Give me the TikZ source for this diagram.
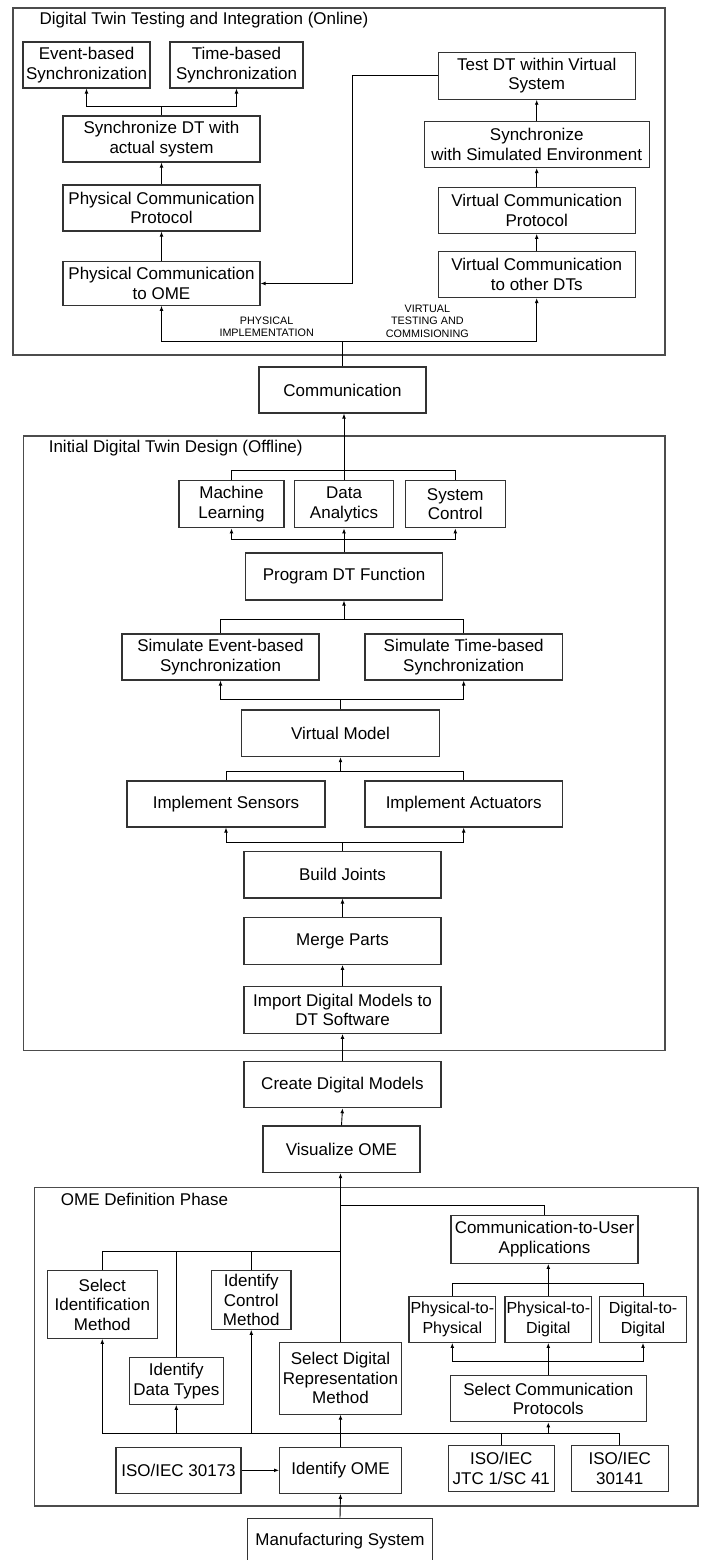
\documentclass[tikz,border=0pt]{standalone}
\usepackage{fontspec}
\setmainfont{Liberation Sans}
\usetikzlibrary{arrows.meta}
\begin{document}
\begin{tikzpicture}[x=1pt,y=-1pt,
  box/.style={draw=black!80, line width=1.1pt, align=center, inner sep=0pt, font=\fontsize{17}{19.5}\selectfont, text=black},
  smallbox/.style={box, font=\fontsize{16}{19.5}\selectfont},
  frame/.style={draw=black!70, line width=1.4pt},
  ln/.style={draw=black, line width=0.9pt},
  arr/.style={ln, -{Latex[length=5pt,width=3.8pt]}},
  lbl/.style={font=\fontsize{10.8}{12.6}\selectfont, align=center, inner sep=0pt},
  ttl/.style={font=\fontsize{17}{19.5}\selectfont, inner sep=0pt, anchor=base west}]
\newcommand\mkbox[7][box]{\node[#1,minimum width=#5pt,minimum height=#6pt] (#2) at (#3,#4) {#7};}
\useasboundingbox (0,0) rectangle (702,1560);
\clip (0,0) rectangle (702,1560);
\fill[white] (0,0) rectangle (702,1560);

% ---------- Top section ----------
\draw[frame] (13,8) rectangle (665,355);
\node[ttl] (t1) at (39.3,24.3) {Digital Twin Testing and Integration (Online)};
\mkbox{ev}{86.5}{65}{127}{46}{Event-based\\Synchronization}
\mkbox{tb}{236.5}{65}{133}{46}{Time-based\\Synchronization}
\mkbox{sda}{161.5}{139}{197}{46}{Synchronize DT with\\actual system}
\mkbox{pcp}{161.5}{208}{197}{46}{Physical Communication\\Protocol}
\mkbox{pco}{161.5}{283.5}{197}{43.5}{Physical Communication\\to OME}
\mkbox{test}{536.7}{75.7}{197}{47}{Test DT within Virtual\\System}
\mkbox{sse}{536.7}{144.5}{225}{46}{Synchronize\\with Simulated Environment}
\mkbox{vcp}{536.7}{210.3}{197}{46}{Virtual Communication\\Protocol}
\mkbox{vco}{536.7}{274.5}{197}{46}{Virtual Communication\\to other DTs}
\mkbox{comm}{342.5}{390}{167}{46}{Communication}

\coordinate (jt) at (342.5,341.7);
\draw[ln] (comm.north) -- (jt);
\draw[arr] (jt) -| (pco.south);
\draw[arr] (jt) -| (vco.south);
\draw[arr] (pco.north) -- (pcp.south);
\draw[arr] (pcp.north) -- (sda.south);
\coordinate (js) at (161.5,106);
\draw[ln] (sda.north) -- (js);
\draw[arr] (js) -| (ev.south);
\draw[arr] (js) -| (tb.south);
\draw[arr] (vco.north) -- (vcp.south);
\draw[arr] (vcp.north) -- (sse.south);
\draw[arr] (sse.north) -- (test.south);
\coordinate (fb) at (352.7,76);
\draw[arr] (test.west) -- (test.west -| fb) |- (pco.east);
\node[lbl] (lp) at (266.7,326.7) {PHYSICAL\\IMPLEMENTATION};
\node[lbl] (lv) at (427.3,321.3) {VIRTUAL\\TESTING AND\\COMMISIONING};

% ---------- Middle section ----------
\draw[frame] (23.4,436) rectangle (665,1050.7);
\node[ttl] (t2) at (48.6,452.5) {Initial Digital Twin Design (Offline)};
\mkbox{ml}{231.5}{504.3}{105}{47}{Machine\\Learning}
\mkbox{da}{344}{504.3}{99}{47}{Data\\Analytics}
\mkbox{sc}{455.3}{504.3}{99.5}{47}{System\\Control}
\mkbox{prog}{344}{576.5}{197}{47}{Program DT Function}
\mkbox{sime}{220.5}{657}{197}{46}{Simulate Event-based\\Synchronization}
\mkbox{simt}{463.7}{657}{197.5}{46}{Simulate Time-based\\Synchronization}
\mkbox{vm}{340.5}{733.3}{197.5}{46.7}{Virtual Model}
\mkbox{ims}{226}{804}{198}{46}{Implement Sensors}
\mkbox{ima}{463.7}{804}{197.5}{46}{Implement Actuators}
\mkbox{bj}{342.5}{874.8}{197}{46.3}{Build Joints}
\mkbox{mp}{342.5}{941}{197}{46.6}{Merge Parts}
\mkbox{imp}{342.5}{1010}{197}{46.6}{Import Digital Models to\\DT Software}

\coordinate (b1) at (344,470);
\draw[arr] (da.north) -- (da.north |- comm.south);
\draw[ln] (ml.north) |- (sc.north |- b1) -- (sc.north);
\coordinate (b2) at (344,539);
\draw[ln] (prog.north) -- (b2);
\draw[arr] (b2) -| (ml.south);
\draw[arr] (b2) -| (sc.south);
\draw[arr] (b2) -- (da.south);
\coordinate (b3) at (344,619);
\draw[arr] (b3) -- (prog.south);
\draw[ln] (sime.north) |- (simt.north |- b3) -- (simt.north);
\coordinate (b4) at (340.5,699);
\draw[ln] (vm.north) -- (b4);
\draw[arr] (b4) -| (sime.south);
\draw[arr] (b4) -| (simt.south);
\coordinate (b5) at (340.5,771.7);
\draw[arr] (b5) -- (vm.south);
\draw[ln] (ims.north) |- (ima.north |- b5) -- (ima.north);
\coordinate (b6) at (342.5,842.7);
\draw[ln] (bj.north) -- (b6);
\draw[arr] (b6) -| (ims.south);
\draw[arr] (b6) -| (ima.south);
\draw[arr] (mp.north) -- (bj.south);
\draw[arr] (imp.north) -- (mp.south);

% ---------- Between ----------
\mkbox{cdm}{342.5}{1084.7}{197}{46}{Create Digital Models}
\mkbox{vis}{341.5}{1149.3}{157}{46.7}{Visualize OME}
\draw[arr] (cdm.north) -- (imp.south);
\draw[arr] (vis.north) -- (cdm.south);

% ---------- Bottom section ----------
\draw[frame] (34.3,1187.7) rectangle (698,1506);
\node[ttl] (t3) at (60.7,1205) {OME Definition Phase};
\mkbox{cua}{544.5}{1239.2}{187}{48.3}{Communication-to-User\\Applications}
\mkbox[smallbox]{ptp}{452.3}{1319.2}{86.7}{46.3}{Physical-to-\\Physical}
\mkbox[smallbox]{ptd}{548.3}{1319.2}{86.7}{46.3}{Physical-to-\\Digital}
\mkbox[smallbox]{dtd}{643}{1319.2}{87.4}{46.3}{Digital-to-\\Digital}
\mkbox{scp}{548.3}{1398.7}{196}{46}{Select Communication\\Protocols}
\mkbox{jtc}{501.3}{1468.5}{106}{46.4}{ISO/IEC\\JTC 1/SC 41}
\mkbox{iso141}{619.7}{1468.5}{97.3}{46.4}{ISO/IEC\\30141}
\mkbox{sim}{102.3}{1304.5}{110}{67.6}{Select\\Identification\\Method}
\mkbox{icm}{251.3}{1300}{79.3}{58.6}{Identify\\Control\\Method}
\mkbox{idt}{176.3}{1381}{94}{46.6}{Identify\\Data Types}
\mkbox{sdr}{340.5}{1378.2}{121.7}{71.7}{Select Digital\\Representation\\Method}
\mkbox{iome}{340.5}{1470.3}{121.7}{46}{Identify OME}
\mkbox{iso173}{178.5}{1470.3}{125}{46}{ISO/IEC 30173}
\mkbox{ms}{340}{1541}{185.4}{45.5}{Manufacturing System}

\coordinate (c1) at (340.5,1205);
\coordinate (c2) at (340.5,1251);
\draw[arr] (sdr.north) -- (sdr.north |- vis.south);
\draw[ln] (c1) -| (cua.north);
\draw[ln] (c2) -| (sim.north);
\draw[ln] (idt.north) -- (idt.north |- c2);
\draw[ln] (icm.north) -- (icm.north |- c2);
\draw[arr] (ptd.north) -- (ptd.north |- cua.south);
\coordinate (c3) at (548.3,1283.3);
\draw[ln] (ptp.north) |- (dtd.north |- c3) -- (dtd.north);
\coordinate (c4) at (548.3,1361.7);
\draw[ln] (scp.north) -- (c4);
\draw[arr] (c4) -| (ptp.south);
\draw[arr] (c4) -- (ptd.south);
\draw[arr] (c4) -| (dtd.south);
\coordinate (c5) at (340.5,1433);
\draw[ln] (iome.north) -- (c5);
\draw[arr] (c5) -| (sim.south);
\draw[arr] (idt.south |- c5) -- (idt.south);
\draw[arr] (icm.south |- c5) -- (icm.south);
\draw[arr] (c5) -- (sdr.south);
\draw[ln] (c5) -| (iso141.north);
\draw[ln] (jtc.north) -- (jtc.north |- c5);
\draw[arr] (scp.south |- c5) -- (scp.south);
\draw[arr] (iso173.east) -- (iome.west);
\draw[arr] (ms.north) -- (iome.south);
\end{tikzpicture}
\end{document}
